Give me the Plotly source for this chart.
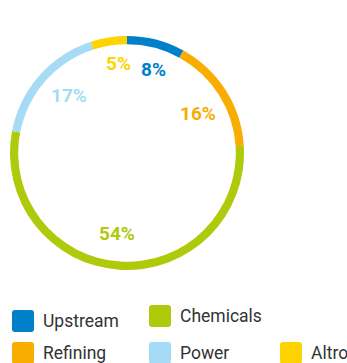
import math
import plotly.graph_objects as go

W, H = 347, 363

categories = ['Upstream', 'Refining', 'Chemicals', 'Power', 'Altro']
shares = [8, 16, 54, 17, 5]
colors = ['#0080C9', '#F8AD00', '#AFCA0B', '#A6DBF6', '#FFD300']

# ring geometry (pixels)
cx, cy, R = 127, 153, 117
label_shift = 3.5  # labels sit a touch clockwise of the slice middle

fig = go.Figure(go.Pie(
    labels=categories,
    values=shares,
    sort=False,
    direction='clockwise',
    rotation=0,
    hole=0.93,
    marker=dict(colors=colors, line=dict(width=0)),
    textinfo='none',
    hoverinfo='label+percent',
    showlegend=False,
    domain=dict(x=[(cx - R) / W, (cx + R) / W], y=[1 - (cy + R) / H, 1 - (cy - R) / H]),
))

# percentage labels inside the ring, at each slice's mid angle
total = sum(shares)
acc = 0
for name, v, c in zip(categories, shares, colors):
    mid = (acc + v / 2) / total * 360 + label_shift
    acc += v
    a = math.radians(mid)
    # labels near the top are pushed a bit further out
    lr = 81 + 9 * max(0.0, math.cos(a)) ** 6
    px = cx + lr * math.sin(a)
    py = cy - lr * math.cos(a)
    fig.add_annotation(
        x=px / W, y=1 - py / H, xref='paper', yref='paper',
        text=f'{v}%', showarrow=False,
        font=dict(family='Roboto, sans-serif', size=19, color=c, weight='bold'),
        xanchor='center', yanchor='middle',
    )

# custom legend: rounded squares + labels
legend_slots = {
    'Upstream': (12, 310),
    'Chemicals': (149, 305),
    'Refining': (12, 342),
    'Power': (149, 342),
    'Altro': (280, 342),
}
sq, rr = 22, 3


def rounded_square(x0, y0, s, r):
    # pixel coords -> paper path
    def p(x, y):
        return f'{x / W:.5f},{1 - y / H:.5f}'
    x1, y1 = x0 + s, y0 + s
    return (f'M{p(x0 + r, y0)} L{p(x1 - r, y0)} Q{p(x1, y0)} {p(x1, y0 + r)} '
            f'L{p(x1, y1 - r)} Q{p(x1, y1)} {p(x1 - r, y1)} '
            f'L{p(x0 + r, y1)} Q{p(x0, y1)} {p(x0, y1 - r)} '
            f'L{p(x0, y0 + r)} Q{p(x0, y0)} {p(x0 + r, y0)} Z')


for name, c in zip(categories, colors):
    x0, y0 = legend_slots[name]
    fig.add_shape(type='path', xref='paper', yref='paper',
                  path=rounded_square(x0, y0, sq, rr),
                  fillcolor=c, line=dict(width=0))
    fig.add_annotation(
        x=(x0 + sq + 7) / W, y=1 - (y0 + sq / 2) / H, xref='paper', yref='paper',
        text=name, showarrow=False,
        font=dict(family='Roboto, sans-serif', size=17.5, color='#333333'),
        xanchor='left', yanchor='middle',
    )

fig.update_layout(
    width=W, height=H,
    margin=dict(l=0, r=0, t=0, b=0),
    paper_bgcolor='white',
    plot_bgcolor='white',
)

# drop the default 8px body margin so the figure fills the window
fig.write_html('out.html', config={'displayModeBar': False},
               post_script="document.body.style.margin='0';")
